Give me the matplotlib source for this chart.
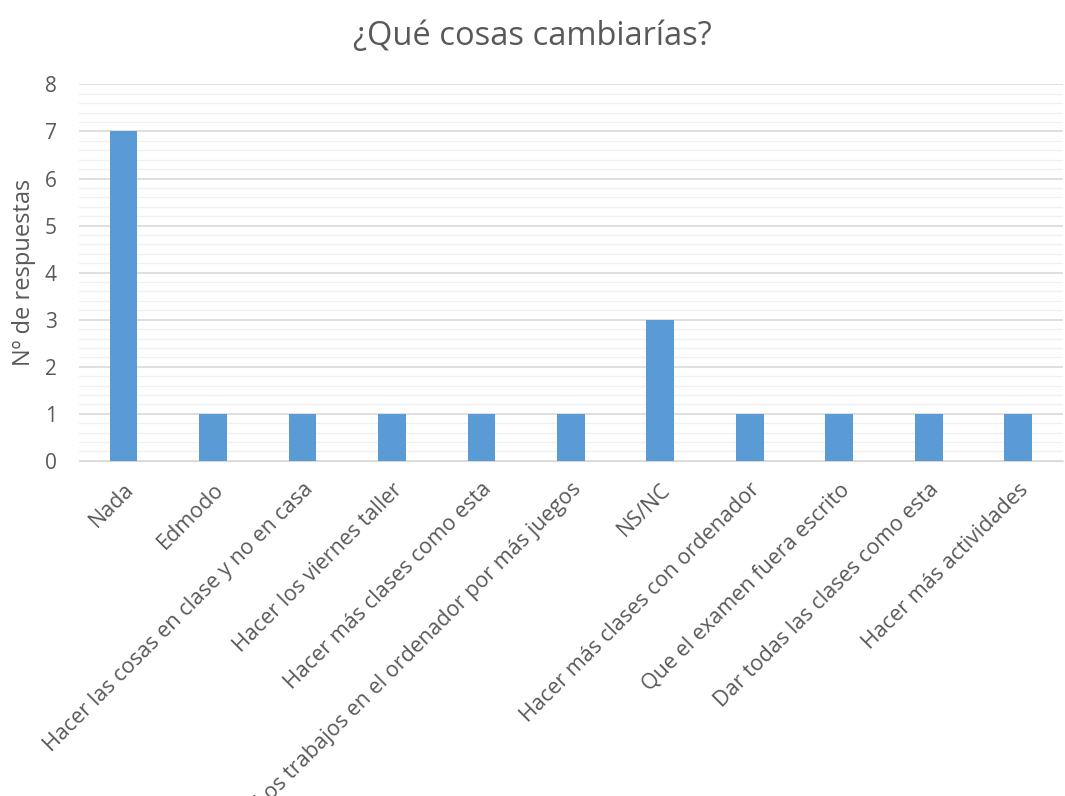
import matplotlib.pyplot as plt
from matplotlib.ticker import MultipleLocator

categories = ['Nada', 'Edmodo', 'Hacer las cosas en clase y no en casa', 'Hacer los viernes taller',
              'Hacer más clases como esta', 'Los trabajos en el ordenador por más juegos', 'NS/NC',
              'Hacer más clases con ordenador', 'Que el examen fuera escrito',
              'Dar todas las clases como esta', 'Hacer más actividades']
values = [7, 1, 1, 1, 1, 1, 3, 1, 1, 1, 1]

plt.rcParams['font.family'] = ['Open Sans', 'DejaVu Sans']
grey = '#595959'

fig = plt.figure(figsize=(10.65, 7.96), dpi=100)
ax = fig.add_axes([0.074, 0.421, 0.924, 0.473])

x = range(len(categories))
ax.bar(x, values, width=0.31, color='#5b9bd5', zorder=3)

ax.set_xlim(-0.5, len(categories) - 0.5)
ax.set_ylim(0, 8)
ax.yaxis.set_major_locator(MultipleLocator(1))
ax.yaxis.set_minor_locator(MultipleLocator(0.2))
ax.grid(axis='y', which='major', color='#d9d9d9', linewidth=1.2, zorder=0)
ax.grid(axis='y', which='minor', color='#f0f0f0', linewidth=1.0, zorder=0)

ax.set_xticks(list(x))
ax.set_xticklabels(categories, rotation=45, ha='right', rotation_mode='anchor', fontsize=15.5, color=grey)
ax.tick_params(axis='y', labelsize=15, labelcolor=grey, length=0, pad=16)
ax.tick_params(axis='x', length=0, pad=13)
ax.tick_params(axis='y', which='minor', length=0)

for s in ['top', 'right', 'left']:
    ax.spines[s].set_visible(False)
ax.spines['bottom'].set_color('#d9d9d9')
ax.spines['bottom'].set_zorder(1)

ax.set_ylabel('Nº de respuestas', fontsize=17, color=grey, labelpad=6)
fig.suptitle('¿Qué cosas cambiarías?', fontsize=23.5, color=grey, y=0.975)

fig.savefig('out.png', dpi=100, facecolor='white')
